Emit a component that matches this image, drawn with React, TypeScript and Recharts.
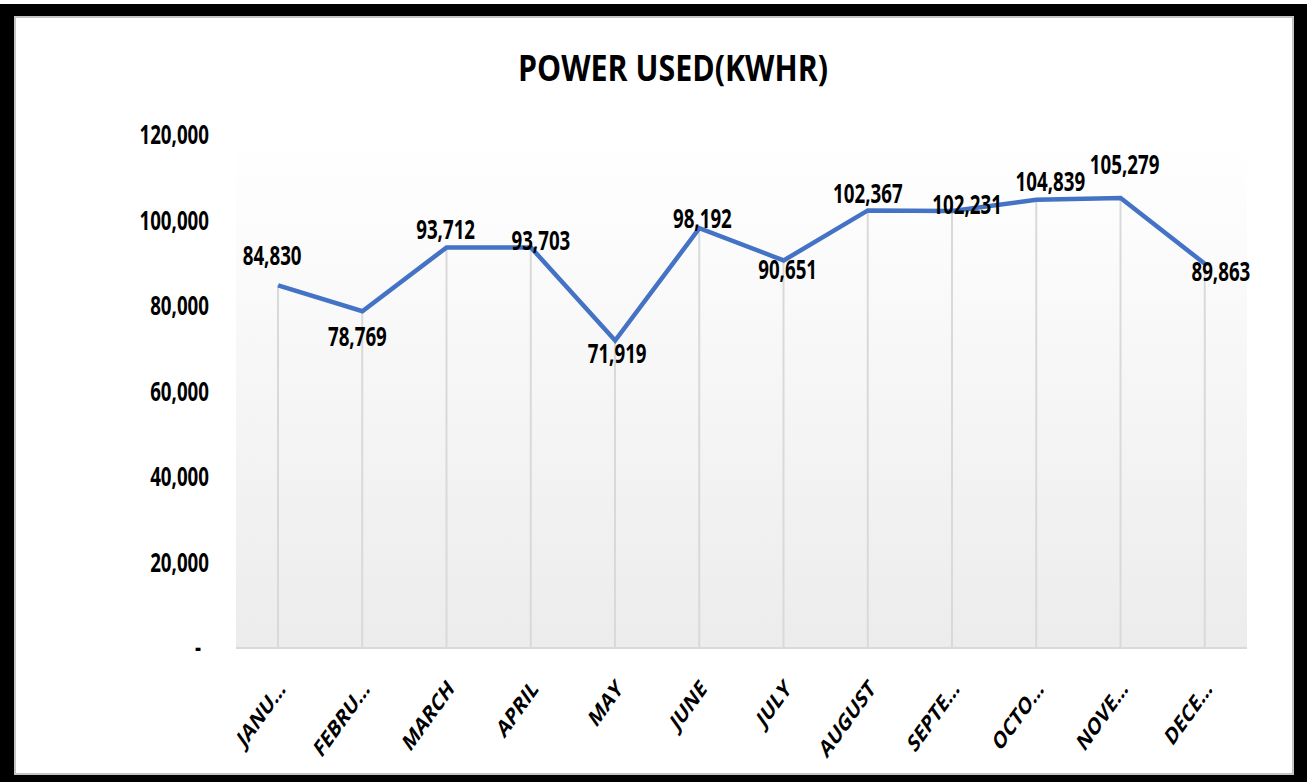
import React from 'react';
import { ComposedChart, Line, Bar, XAxis, YAxis, CartesianGrid, LabelList } from 'recharts';

// monthly consumption
const MONTHS = ['JANUARY', 'FEBRUARY', 'MARCH', 'APRIL', 'MAY', 'JUNE', 'JULY', 'AUGUST', 'SEPTEMBER', 'OCTOBER', 'NOVEMBER', 'DECEMBER'];
const MONTH_TICKS = ['JANU…', 'FEBRU…', 'MARCH', 'APRIL', 'MAY', 'JUNE', 'JULY', 'AUGUST', 'SEPTE…', 'OCTO…', 'NOVE…', 'DECE…'];
const POWER_KWHR = [84830, 78769, 93712, 93703, 71919, 98192, 90651, 102367, 102231, 104839, 105279, 89863];
const Y_TICKS = [0, 20000, 40000, 60000, 80000, 100000, 120000];

// where Excel put each data label, relative to its point
const LABEL_SHIFT: [number, number][] = [
  [-6, -30], [-5, 25], [-1, -18], [10, -7], [2, 13], [3, -10],
  [4, 9], [0, -17], [15, -6], [14, -18], [4, -33], [16, 8],
];

const FONT = "'Open Sans', 'DejaVu Sans', sans-serif";
const SQUEEZE = 0.72;

const data = MONTHS.map((m, i) => ({ month: m, tick: MONTH_TICKS[i], kwh: POWER_KWHR[i] }));

const YTick = (props: any) => {
  const { x, y, payload } = props;
  const v = payload.value as number;
  const txt = v === 0 ? '-' : v.toLocaleString('en-US');
  return (
    <g transform={`translate(${v === 0 ? x - 8 : x},${y}) scale(${SQUEEZE},1)`}>
      <text textAnchor="end" dy="0.36em" fontFamily={FONT} fontWeight={700} fontSize={26} fill="#000">
        {txt}
      </text>
    </g>
  );
};

const XTick = (props: any) => {
  const { x, y, payload } = props;
  return (
    <g transform={`translate(${x + 4},${y + 36}) scale(${SQUEEZE},1) rotate(-45)`}>
      <text textAnchor="end" dy="0.36em" fontFamily={FONT} fontWeight={700} fontSize={24} fill="#000">
        {payload.value}
      </text>
    </g>
  );
};

const PointLabel = (props: any) => {
  const { x, y, value } = props;
  let idx = props.index;
  if (idx == null) idx = POWER_KWHR.indexOf(value);
  const [dx, dy] = LABEL_SHIFT[idx] || [0, -20];
  return (
    <g transform={`translate(${x + dx},${y + dy}) scale(${SQUEEZE},1)`}>
      <text textAnchor="middle" dy="0.36em" fontFamily={FONT} fontWeight={700} fontSize={26} fill="#000">
        {Number(value).toLocaleString('en-US')}
      </text>
    </g>
  );
};

export default function App() {
  return (
    <div style={{ position: 'fixed', left: 0, top: 0, width: 1308, height: 782, background: '#fff', overflow: 'hidden' }}>
      {/* black frame */}
      <div style={{ position: 'absolute', left: 0, top: 4, width: 1307, height: 778, background: '#000' }} />
      <div
        style={{
          position: 'absolute', left: 14, top: 16, width: 1276, height: 755,
          background: '#fff', border: '2px solid #c4c4c4',
        }}
      />
      <svg style={{ position: 'absolute', left: 0, top: 0 }} width={1308} height={120}>
        <text
          x={673}
          y={81}
          textAnchor="middle"
          textLength={310}
          lengthAdjust="spacingAndGlyphs"
          fontFamily={FONT}
          fontWeight={700}
          fontSize={36}
          fill="#000"
        >
          POWER USED(KWHR)
        </text>
      </svg>
      <div style={{ position: 'absolute', left: 0, top: 0 }}>
        <ComposedChart
          width={1308}
          height={782}
          data={data}
          margin={{ top: 135, right: 61, bottom: 74, left: 136 }}
        >
          <defs>
            <linearGradient id="plotBg" x1="0" y1="0" x2="0" y2="1">
              <stop offset="0" stopColor="#ffffff" />
              <stop offset="0.12" stopColor="#fdfdfd" />
              <stop offset="1" stopColor="#ececec" />
            </linearGradient>
          </defs>
          <CartesianGrid horizontal={false} vertical={false} fill="url(#plotBg)" stroke="none" />
          <XAxis
            dataKey="tick"
            interval={0}
            height={60}
            tickSize={0}
            tickMargin={0}
            tickLine={false}
            axisLine={{ stroke: '#d9d9d9', strokeWidth: 2 }}
            tick={<XTick />}
          />
          <YAxis
            domain={[0, 120000]}
            ticks={Y_TICKS}
            width={100}
            tickSize={0}
            tickMargin={27}
            tickLine={false}
            axisLine={false}
            tick={<YTick />}
          />
          {/* drop lines from each point to the axis */}
          <Bar dataKey="kwh" barSize={2} fill="#d9d9d9" isAnimationActive={false} />
          <Line
            type="linear"
            dataKey="kwh"
            stroke="#4472C4"
            strokeWidth={4.5}
            dot={false}
            activeDot={false}
            isAnimationActive={false}
          >
            <LabelList dataKey="kwh" content={<PointLabel />} />
          </Line>
        </ComposedChart>
      </div>
    </div>
  );
}
